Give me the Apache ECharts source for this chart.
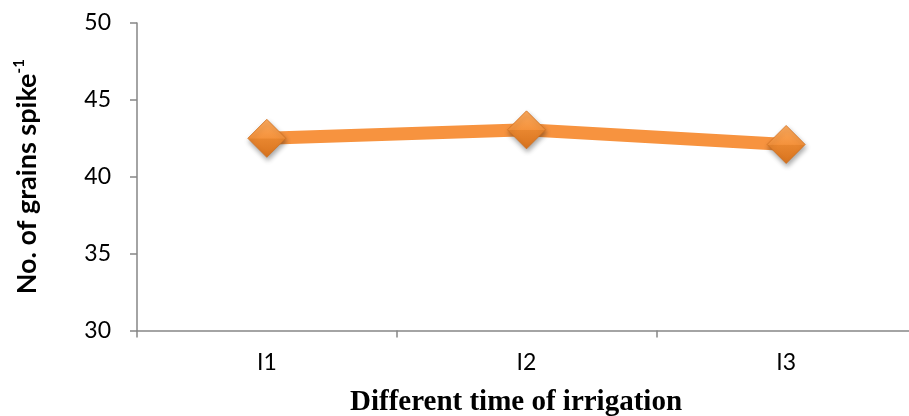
<!DOCTYPE html>
<html>
<head>
<meta charset="utf-8">
<script src="https://cdn.jsdelivr.net/npm/echarts@6/dist/echarts.min.js"></script>
<style>
  html, body { margin: 0; padding: 0; background: #ffffff; }
  #chart { width: 909px; height: 416px; }
</style>
</head>
<body>
<div id="chart"></div>
<script>
// Grains per spike under three irrigation timings
const categories = ['I1', 'I2', 'I3'];
const grainsPerSpike = [42.5, 43.05, 42.1];
const yTicks = { min: 30, max: 50, interval: 5 };

const axisGrey = '#868686';
const orange = '#F7933F';

const chart = echarts.init(document.getElementById('chart'), null, { renderer: 'canvas' });

chart.setOption({
  animation: false,
  backgroundColor: '#ffffff',
  grid: { left: 137, right: -7, top: 23, bottom: 85.5, containLabel: false, outerBoundsMode: 'none' },
  xAxis: {
    type: 'category',
    data: categories,
    boundaryGap: true,
    axisLine: { lineStyle: { color: axisGrey, width: 1.5 } },
    axisTick: { show: true, length: 7, lineStyle: { color: axisGrey, width: 1.5 } },
    axisLabel: { color: '#000000', fontFamily: 'Lato', fontSize: 23, margin: 21 },
    name: 'Different time of irrigation',
    nameLocation: 'middle',
    nameGap: 58,
    nameTextStyle: {
      color: '#000000', fontFamily: 'Liberation Serif', fontWeight: 'bold',
      fontSize: 29, padding: [0, 21, 0, 0]
    }
  },
  yAxis: {
    type: 'value',
    min: yTicks.min,
    max: yTicks.max,
    interval: yTicks.interval,
    splitLine: { show: false },
    axisLine: { show: true, lineStyle: { color: axisGrey, width: 1.5 } },
    axisTick: { show: true, length: 7, lineStyle: { color: axisGrey, width: 1.5 } },
    axisLabel: { color: '#000000', fontFamily: 'Lato', fontSize: 23, margin: 26 },
    name: '{main|No. of grains spike}{sup|-1}',
    nameLocation: 'middle',
    nameRotate: 90,
    nameGap: 95,
    nameTextStyle: {
      rich: {
        main: { color: '#000000', fontFamily: 'Lato', fontWeight: 'bold', fontSize: 27, lineHeight: 30 },
        sup: { color: '#000000', fontFamily: 'Lato', fontWeight: 'bold', fontSize: 15, verticalAlign: 'top', lineHeight: 30, padding: [0, 0, 10, 0] }
      }
    }
  },
  series: [{
    type: 'line',
    data: grainsPerSpike,
    lineStyle: { color: orange, width: 13 },
    symbol: 'diamond',
    symbolSize: 38,
    itemStyle: {
      color: new echarts.graphic.LinearGradient(0, 0, 0, 1, [
        { offset: 0, color: '#FBAA5E' },
        { offset: 0.5, color: '#F4923C' },
        { offset: 0.51, color: '#E8862F' },
        { offset: 1, color: '#D8731E' }
      ]),
      borderColor: '#D07020',
      borderWidth: 0.8,
      shadowBlur: 5,
      shadowOffsetX: 1,
      shadowOffsetY: 3,
      shadowColor: 'rgba(0,0,0,0.35)'
    },
    emphasis: { disabled: true },
    z: 3
  }]
});
</script>
</body>
</html>
